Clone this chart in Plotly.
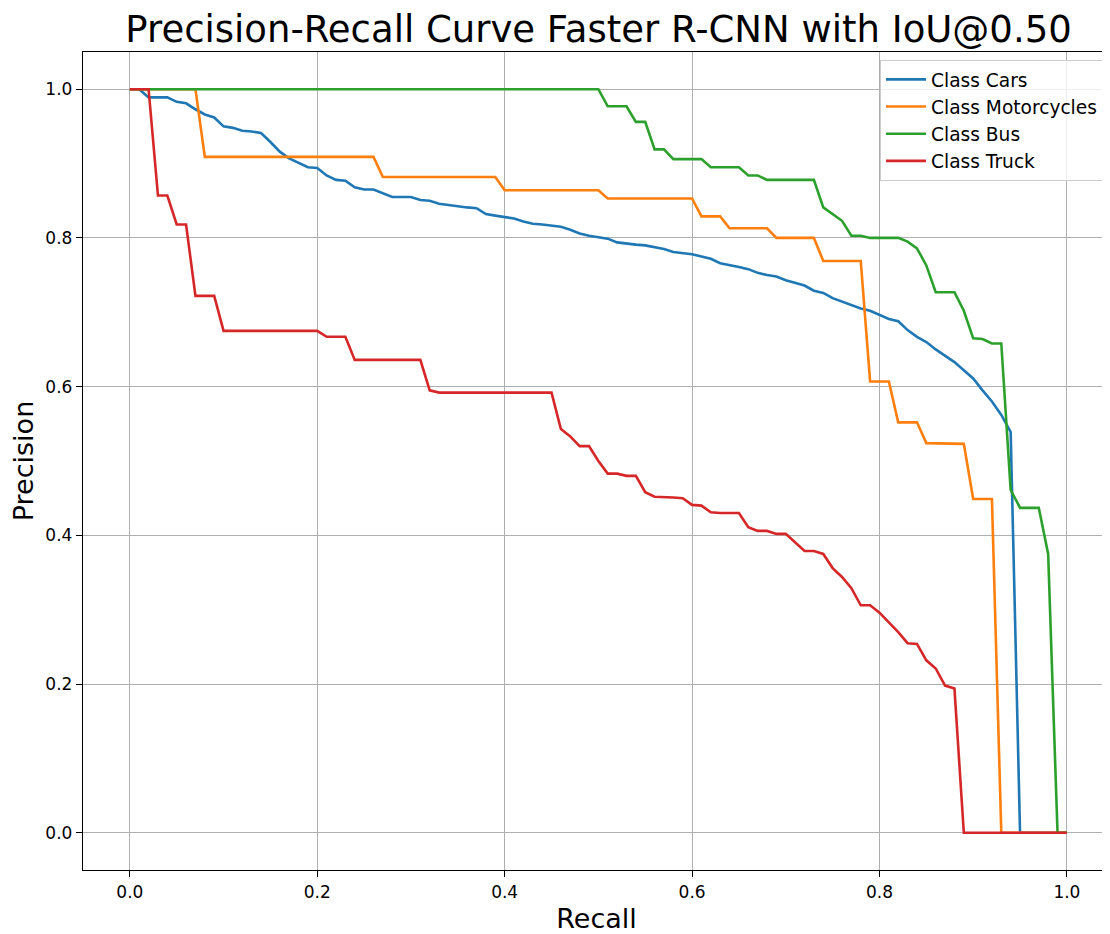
import plotly.graph_objects as go

recall = [0.00, 0.01, 0.02, 0.03, 0.04, 0.05, 0.06, 0.07, 0.08, 0.09,
          0.10, 0.11, 0.12, 0.13, 0.14, 0.15, 0.16, 0.17, 0.18, 0.19,
          0.20, 0.21, 0.22, 0.23, 0.24, 0.25, 0.26, 0.27, 0.28, 0.29,
          0.30, 0.31, 0.32, 0.33, 0.34, 0.35, 0.36, 0.37, 0.38, 0.39,
          0.40, 0.41, 0.42, 0.43, 0.44, 0.45, 0.46, 0.47, 0.48, 0.49,
          0.50, 0.51, 0.52, 0.53, 0.54, 0.55, 0.56, 0.57, 0.58, 0.59,
          0.60, 0.61, 0.62, 0.63, 0.64, 0.65, 0.66, 0.67, 0.68, 0.69,
          0.70, 0.71, 0.72, 0.73, 0.74, 0.75, 0.76, 0.77, 0.78, 0.79,
          0.80, 0.81, 0.82, 0.83, 0.84, 0.85, 0.86, 0.87, 0.88, 0.89,
          0.90, 0.91, 0.92, 0.93, 0.94, 0.95, 0.96, 0.97, 0.98, 0.99, 1.00]

prec_cars = [1.0, 1.0, 0.989, 0.989, 0.989, 0.983, 0.981, 0.973, 0.966, 0.962,
             0.950, 0.948, 0.944, 0.943, 0.941, 0.929, 0.916, 0.907, 0.901, 0.895,
             0.894, 0.884, 0.878, 0.877, 0.868, 0.865, 0.865, 0.860, 0.855, 0.855,
             0.855, 0.851, 0.850, 0.846, 0.844, 0.843, 0.841, 0.840, 0.832, 0.830,
             0.828, 0.826, 0.822, 0.819, 0.818, 0.817, 0.815, 0.811, 0.806, 0.803,
             0.801, 0.799, 0.794, 0.792, 0.791, 0.790, 0.788, 0.785, 0.781, 0.780,
             0.778, 0.775, 0.772, 0.766, 0.764, 0.761, 0.758, 0.753, 0.750, 0.748,
             0.743, 0.740, 0.736, 0.729, 0.726, 0.719, 0.714, 0.710, 0.705, 0.702,
             0.696, 0.691, 0.688, 0.676, 0.667, 0.660, 0.650, 0.642, 0.633, 0.622,
             0.611, 0.595, 0.580, 0.562, 0.539, 0.0, 0.0, 0.0, 0.0, 0.0, 0.0]

prec_moto = [1.0, 1.0, 1.0, 1.0, 1.0, 1.0, 1.0, 1.0, 0.909, 0.909,
             0.909, 0.909, 0.909, 0.909, 0.909, 0.909, 0.909, 0.909, 0.909, 0.909,
             0.909, 0.909, 0.909, 0.909, 0.909, 0.909, 0.909, 0.882, 0.882, 0.882,
             0.882, 0.882, 0.882, 0.882, 0.882, 0.882, 0.882, 0.882, 0.882, 0.882,
             0.864, 0.864, 0.864, 0.864, 0.864, 0.864, 0.864, 0.864, 0.864, 0.864,
             0.864, 0.853, 0.853, 0.853, 0.853, 0.853, 0.853, 0.853, 0.853, 0.853,
             0.853, 0.829, 0.829, 0.829, 0.813, 0.813, 0.813, 0.813, 0.813, 0.800,
             0.800, 0.800, 0.800, 0.800, 0.769, 0.769, 0.769, 0.769, 0.769, 0.607,
             0.607, 0.607, 0.552, 0.552, 0.552, 0.524, 0.524, 0.523, 0.523, 0.523,
             0.449, 0.449, 0.449, 0.0, 0.0, 0.0, 0.0, 0.0, 0.0, 0.0, 0.0]

prec_bus = [1.0, 1.0, 1.0, 1.0, 1.0, 1.0, 1.0, 1.0, 1.0, 1.0,
            1.0, 1.0, 1.0, 1.0, 1.0, 1.0, 1.0, 1.0, 1.0, 1.0,
            1.0, 1.0, 1.0, 1.0, 1.0, 1.0, 1.0, 1.0, 1.0, 1.0,
            1.0, 1.0, 1.0, 1.0, 1.0, 1.0, 1.0, 1.0, 1.0, 1.0,
            1.0, 1.0, 1.0, 1.0, 1.0, 1.0, 1.0, 1.0, 1.0, 1.0,
            1.0, 0.977, 0.977, 0.977, 0.956, 0.956, 0.919, 0.919, 0.906, 0.906,
            0.906, 0.906, 0.895, 0.895, 0.895, 0.895, 0.884, 0.884, 0.878, 0.878,
            0.878, 0.878, 0.878, 0.878, 0.841, 0.832, 0.823, 0.803, 0.803, 0.800,
            0.800, 0.800, 0.800, 0.795, 0.786, 0.763, 0.727, 0.727, 0.727, 0.702,
            0.665, 0.664, 0.658, 0.658, 0.461, 0.437, 0.437, 0.437, 0.375, 0.0, 0.0]

prec_truck = [1.0, 1.0, 1.0, 0.857, 0.857, 0.818, 0.818, 0.722, 0.722, 0.722,
              0.675, 0.675, 0.675, 0.675, 0.675, 0.675, 0.675, 0.675, 0.675, 0.675,
              0.675, 0.667, 0.667, 0.667, 0.636, 0.636, 0.636, 0.636, 0.636, 0.636,
              0.636, 0.636, 0.595, 0.592, 0.592, 0.592, 0.592, 0.592, 0.592, 0.592,
              0.592, 0.592, 0.592, 0.592, 0.592, 0.592, 0.543, 0.533, 0.520, 0.520,
              0.500, 0.483, 0.483, 0.480, 0.480, 0.458, 0.452, 0.452, 0.451, 0.450,
              0.441, 0.440, 0.431, 0.430, 0.430, 0.430, 0.411, 0.406, 0.406, 0.402,
              0.402, 0.390, 0.379, 0.379, 0.375, 0.356, 0.344, 0.329, 0.306, 0.306,
              0.296, 0.283, 0.270, 0.255, 0.254, 0.232, 0.221, 0.198, 0.194, 0.0,
              0.0, 0.0, 0.0, 0.0, 0.0, 0.0, 0.0, 0.0, 0.0, 0.0, 0.0]

series_names = ["Class Cars", "Class Motorcycles", "Class Bus", "Class Truck"]
series_values = [prec_cars, prec_moto, prec_bus, prec_truck]
colors = ["#1f77b4", "#ff7f0e", "#2ca02c", "#d62728"]

tick_vals = [0.0, 0.2, 0.4, 0.6, 0.8, 1.0]
tick_text = ["0.0", "0.2", "0.4", "0.6", "0.8", "1.0"]

FONT = "DejaVu Sans"

fig = go.Figure()
for name, vals, col in zip(series_names, series_values, colors):
    fig.add_trace(go.Scatter(x=recall, y=vals, mode="lines", name=name,
                             line=dict(color=col, width=2.6)))

# page body has an 8px margin; figure is shifted by (8, 8)
W, H = 1102, 926
L, R, T, B = 75, 0, 44, 64
fig.update_layout(
    width=W, height=H,
    margin=dict(l=L, r=R, t=T, b=B, pad=0),
    paper_bgcolor="white", plot_bgcolor="white",
    font=dict(family=FONT, color="black", size=17),
    title=dict(text="Precision-Recall Curve Faster R-CNN with IoU@0.50",
               font=dict(family=FONT, size=37, color="black"),
               x=0.502, xref="paper", xanchor="center",
               y=1 - 21 / H, yref="container", yanchor="middle"),
    showlegend=True,
    legend=dict(x=0.9932, y=0.9905, xanchor="right", yanchor="top",
                bgcolor="rgba(255,255,255,0.8)", bordercolor="#cccccc", borderwidth=1,
                font=dict(family=FONT, size=18.6, color="black"),
                tracegroupgap=0, itemwidth=40),
)
fig.update_xaxes(
    range=[-0.05, 1.046], tickmode="array", tickvals=tick_vals, ticktext=tick_text,
    showgrid=True, gridcolor="#b0b0b0", gridwidth=1.3, zeroline=False,
    showline=True, linecolor="black", linewidth=1.4, mirror=True,
    ticks="outside", ticklen=6, tickwidth=1.4, tickcolor="black",
    tickfont=dict(family=FONT, size=17, color="black"),
    title=dict(text="Recall", font=dict(family=FONT, size=27, color="black"), standoff=8),
)
fig.update_yaxes(
    range=[-0.05, 1.05], tickmode="array", tickvals=tick_vals, ticktext=tick_text,
    showgrid=True, gridcolor="#b0b0b0", gridwidth=1.3, zeroline=False,
    showline=True, linecolor="black", linewidth=1.4,
    ticks="outside", ticklen=6, tickwidth=1.4, tickcolor="black",
    tickfont=dict(family=FONT, size=17, color="black"),
    title=dict(text="Precision", font=dict(family=FONT, size=27, color="black"), standoff=12),
)

fig.write_html("out.html")
